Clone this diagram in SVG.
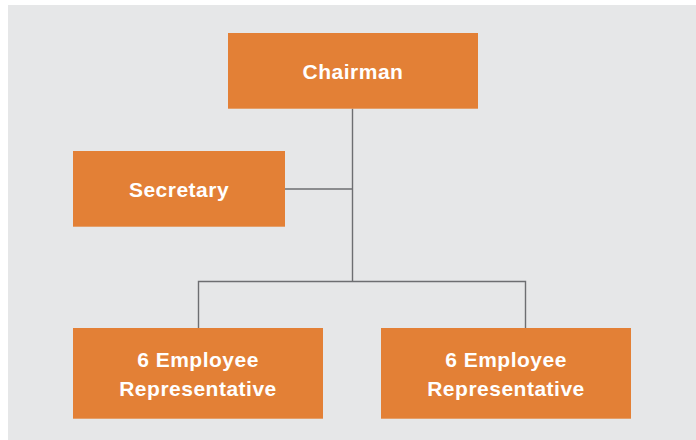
<svg xmlns="http://www.w3.org/2000/svg" width="696" height="440" viewBox="0 0 696 440">
<style>
.box{fill:#e38036}
.lbl{font-family:"Liberation Sans",Arial,sans-serif;font-weight:bold;font-size:21px;letter-spacing:0.5px;fill:#ffffff;text-anchor:middle}
.con{fill:none;stroke:#6d6e71;stroke-width:1.4}
</style>
<rect x="8" y="5" width="688" height="435" fill="#e6e7e8"/>
<g id="connectors">
<path class="con" d="M352.5 108.7 V281.5"/>
<path class="con" d="M285 189 H352.5"/>
<path class="con" d="M198.5 328 V281.5 H525.5 V328"/>
</g>
<g id="chairman">
<rect class="box" x="228" y="33" width="250" height="75.7"/>
<text class="lbl" x="353" y="79">Chairman</text>
</g>
<g id="secretary">
<rect class="box" x="73" y="151" width="212" height="75.7"/>
<text class="lbl" x="179" y="196.5">Secretary</text>
</g>
<g id="rep-left">
<rect class="box" x="73" y="328" width="250" height="90.7"/>
<text class="lbl" x="198" y="367.3">6 Employee</text>
<text class="lbl" x="198" y="396">Representative</text>
</g>
<g id="rep-right">
<rect class="box" x="381" y="328" width="250" height="90.7"/>
<text class="lbl" x="506" y="367.3">6 Employee</text>
<text class="lbl" x="506" y="396">Representative</text>
</g>
</svg>
